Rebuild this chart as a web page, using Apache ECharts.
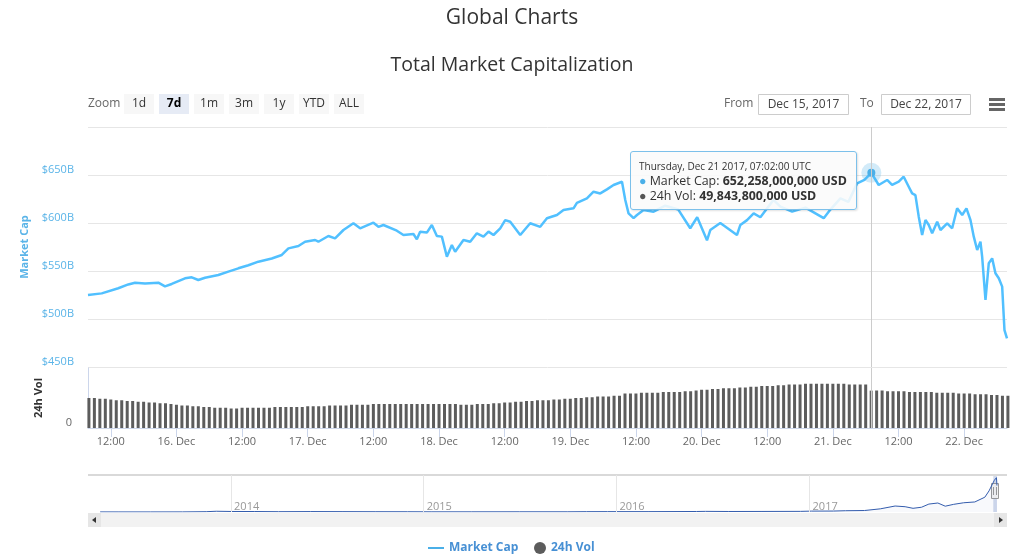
<!DOCTYPE html>
<html><head><meta charset="utf-8">
<script src="https://cdn.jsdelivr.net/npm/echarts@6/dist/echarts.min.js"></script>
<style>html,body{margin:0;padding:0;background:#fff}#c{width:1024px;height:555px}</style>
</head><body><div id="c"></div>
<script>
// ---------- DATA ----------
// Hours since 2017-12-15 00:00 UTC
const capHours = [7.83,10.34,13.37,15.2,16.43,18.26,20.69,21.91,23.14,25.57,26.8,28.0,29.23,31.66,33.49,35.32,37.15,38.98,41.43,43.26,44.47,46.3,47.52,49.35,49.95,51.78,53.0,54.53,56.35,57.58,60.01,60.93,61.84,64.29,65.5,67.33,67.95,68.55,69.78,70.69,71.61,72.52,73.44,74.35,74.95,76.47,77.7,78.92,80.13,81.05,81.96,83.19,84.1,85.02,86.85,88.67,90.5,91.73,93.56,94.76,96.59,97.21,99.04,100.25,101.48,102.7,103.91,105.45,106.05,106.65,107.57,108.19,109.4,111.23,113.36,115.74,117.93,119.2,120.99,121.59,123.42,126.47,127.09,128.31,129.52,130.75,133.13,134.41,136.55,138.98,142.33,143.55,145.38,146.84,148.43,149.77,151.0333,152.38,153.92,154.83,156.04,156.95,157.87,158.49,159.09,159.7,160.32,160.93,161.53,162.15,163.07,163.67,164.9,165.81,166.72,167.64,168.42,169.16,169.76,170.38,170.98,171.29,171.9,172.5,173.12,173.72,174.33,174.95,175.37,175.83];
// Market cap, billions USD
const capValues = [525,526.7,532,536,537.8,537,537.8,534,536.5,542.4,543.4,540.6,543,545.8,549.3,552.8,556,559.7,563,566.7,573.6,576,580.5,582.3,580.5,586.5,584,592.7,599.7,594.5,600.3,596,597.9,592,587.5,588.5,583,591,590,597.9,586.5,585.8,564.9,577,570,582.3,580.5,589.3,585.8,591,587.5,594.5,603,601.3,587.5,599.7,596,604.9,608.3,613.5,615.3,621,625.7,632.6,630.8,635,639.6,643,624,610,605,608.3,613.5,611.8,618,614,594.5,606,582,592.7,600,587.5,598,603,610,606,624,617,611.8,616,605,614,625.7,622,641.3,645,652.258,639.6,644.8,639.6,643,648.2,637.8,630.8,629,606.6,587.5,603.1,597.9,589.3,601.3,592.7,599.7,594.5,615.3,608.3,615.3,603,585.8,571.9,580.5,564.9,519.8,558,563.2,547.6,542.4,533.7,488.5,479.9];
// 24h volume, billions USD, hourly from this hour
const volStartHour = 8;
const volValues = [40,40,39,39,38,
 37,37,36,36,35,35,34,34,
 33,33,32,31,30,30,29,29,28,28,
 27,27,27,26,26,27,27,27,27,27,27,28,28,28,28,28,28,29,29,29,
 29,30,30,30,30,31,31,31,31,32,32,32,32,32,32,32,32,32,32,32,
 32,32,32,32,32,31,31,31,32,32,32,33,33,34,34,35,35,36,36,37,
 37,37,38,38,39,39,40,40,41,41,42,42,42,43,43,
 46,46,46,47,47,47,47,48,48,48,48,49,49,
 50,51,51,52,52,53,53,53,54,54,55,55,56,56,56,57,57,
 58,58,58,59,59,59,59,59,59,59,59,58,58,58,58,
 49.8438,50,50,49,49,49,49,48,48,48,48,48,47,47,47,47,46,46,46,45,45,45,44,44,43,43];
const tipHour = 151.0333;
// Navigator (full history), billions USD
const navDates = ['2013-04-28','2013-06-01','2013-08-01','2013-10-01','2013-11-15','2013-12-04','2014-01-01','2014-02-15','2014-04-01','2014-06-01','2014-08-01','2014-10-01','2014-12-01','2015-01-15','2015-04-01','2015-07-01','2015-10-01','2015-11-05','2015-12-15','2016-03-01','2016-06-01','2016-06-18','2016-08-01','2016-10-01','2016-12-15','2017-01-05','2017-02-15','2017-03-10','2017-04-15','2017-05-15','2017-06-12','2017-07-01','2017-07-16','2017-08-01','2017-08-15','2017-09-01','2017-09-15','2017-10-01','2017-10-20','2017-11-10','2017-11-29','2017-12-07','2017-12-17','2017-12-21','2017-12-22'];
const navValues = [1.5,1.3,1.2,2,6,14,10,9,6,8,7,5.5,5,3.5,3.5,4,4,6.5,6.8,7,9.5,12,9.5,10.5,12,17,18,24,28,60,113,100,70,90,150,170,110,145,175,190,280,400,600,650,500];
const xTickHours = [12,24,36,48,60,72,84,96,108,120,132,144,156,168];
const yearTicks = ['2014-01-01','2015-01-01','2016-01-01','2017-01-01'];
const rangeButtons = ['1d','7d','1m','3m','1y','YTD','ALL'];
const selectedButton = '7d';
const fromDate = 'Dec 15, 2017', toDate = 'Dec 22, 2017';

// ---------- CHART ----------
const FONT = 'Open Sans';
const BLUE = '#4aafe8';
const LBLUE = '#5ab4e8';
const chart = echarts.init(document.getElementById('c'));
const capData = capHours.map((h, i) => [h, capValues[i]]);
const volData = volValues.map((v, i) => [volStartHour + i, v]);
const toMs = d => Date.parse(d + 'T00:00:00Z');
const navData = navDates.map((d, i) => [toMs(d), navValues[i]]);
const tipIdx = capHours.indexOf(tipHour);
const DAYS = ['Sunday','Monday','Tuesday','Wednesday','Thursday','Friday','Saturday'];
const MONS = ['Jan','Feb','Mar','Apr','May','Jun','Jul','Aug','Sep','Oct','Nov','Dec'];
const pad = n => (n < 10 ? '0' : '') + n;
const base = Date.UTC(2017, 11, 15);
function tipDate(h) {
  const d = new Date(base + Math.round(h * 60) * 60000);
  return DAYS[d.getUTCDay()] + ', ' + MONS[d.getUTCMonth()] + ' ' + d.getUTCDate() + ' ' + d.getUTCFullYear() + ', ' + pad(d.getUTCHours()) + ':' + pad(d.getUTCMinutes()) + ':00 UTC';
}
const big = v => Math.round(v * 1e9).toLocaleString('en-US');
const xMin = 7.8333, xMax = 175.8333;

chart.setOption({
  animation: false,
  textStyle: { fontFamily: FONT },
  title: [
    { text: 'Global Charts', left: 'center', top: 3, textStyle: { fontFamily: FONT, fontSize: 21, fontWeight: 'normal', color: '#333' } },
    { text: 'Total Market Capitalization', left: 'center', top: 50, textStyle: { fontFamily: FONT, fontSize: 19.5, fontWeight: 'normal', color: '#333' } }
  ],
  legend: [
    { data: [{ name: 'Market Cap', icon: 'rect' }], left: 428, top: 542, padding: 0, itemWidth: 16, itemHeight: 2, itemGap: 4, selectedMode: false,
      textStyle: { color: '#4790d4', fontWeight: 'bold', fontSize: 12, fontFamily: FONT } },
    { data: [{ name: '24h Vol', icon: 'circle' }], left: 534, top: 542, padding: 0, itemWidth: 12, itemHeight: 12, selectedMode: false,
      textStyle: { color: '#4790d4', fontWeight: 'bold', fontSize: 12, fontFamily: FONT } }
  ],
  axisPointer: { link: [{ xAxisIndex: [0, 1] }] },
  tooltip: {
    trigger: 'axis',
    axisPointer: { type: 'line', lineStyle: { color: '#cccccc', width: 1, type: 'solid' } },
    alwaysShowContent: true,
    transitionDuration: 0,
    position: [630, 151],
    backgroundColor: 'rgba(250,250,250,0.88)',
    borderColor: '#7cc0ea', borderWidth: 1, borderRadius: 3,
    padding: [7, 8, 6, 8],
    extraCssText: 'box-shadow:1px 1px 2px rgba(0,0,0,0.12);min-width:209px;',
    textStyle: { fontFamily: FONT, fontSize: 12, color: '#333' },
    formatter: function (params) {
      const p = params.find(q => q.seriesIndex === 0) || params[0];
      const h = p.value[0];
      const vol = volValues[Math.round(h) - volStartHour];
      return '<div style="font-size:10px;line-height:14px;color:#333">' + tipDate(h) + '</div>' +
        '<div style="line-height:15px;font-size:12.4px"><span style="color:' + BLUE + '">\u25CF</span> Market Cap: <b>' + big(p.value[1]) + ' USD</b></div>' +
        '<div style="line-height:15px;font-size:12.4px"><span style="color:#555">\u25CF</span> 24h Vol: <b>' + big(vol) + ' USD</b></div>';
    }
  },
  grid: [
    { left: 88, right: 17, top: 127, height: 240 },
    { left: 88, right: 17, top: 368, height: 60 },
    { left: 88, right: 17, top: 475, height: 37 }
  ],
  xAxis: [
    { gridIndex: 0, type: 'value', min: xMin, max: xMax,
      axisLine: { show: false }, axisTick: { show: false }, axisLabel: { show: false }, splitLine: { show: false } },
    { gridIndex: 1, type: 'value', min: xMin, max: xMax,
      axisLine: { show: true, lineStyle: { color: '#ccd6eb' } },
      axisTick: { show: true, customValues: xTickHours, length: 9, lineStyle: { color: '#ccd6eb' } },
      axisLabel: { customValues: xTickHours, margin: 8, color: '#666', fontSize: 11, fontFamily: FONT,
        formatter: h => (h % 24 === 0 ? (15 + h / 24) + '. Dec' : '12:00') },
      splitLine: { show: false } },
    { gridIndex: 2, type: 'value', min: Date.UTC(2013, 3, 5), max: Date.UTC(2018, 0, 10),
      axisLine: { show: false }, axisTick: { show: false }, splitLine: { show: false },
      axisLabel: { customValues: yearTicks.map(toMs), inside: true, margin: 0,
        align: 'left', verticalAlign: 'bottom', padding: [0, 0, 0, 3], color: '#999', fontSize: 11, fontFamily: FONT,
        formatter: v => String(new Date(v).getUTCFullYear()) } }
  ],
  yAxis: [
    { gridIndex: 0, type: 'value', min: 450, max: 700, interval: 50,
      name: 'Market Cap', nameLocation: 'middle', nameGap: 57,
      nameTextStyle: { color: LBLUE, fontWeight: 'bold', fontSize: 11, fontFamily: FONT },
      axisLine: { show: false }, axisTick: { show: false },
      axisLabel: { color: LBLUE, fontSize: 11, margin: 14, verticalAlign: 'bottom', fontFamily: FONT,
        formatter: v => (v >= 700 ? '' : '$' + v + 'B') },
      splitLine: { lineStyle: { color: '#e6e6e6' } } },
    { gridIndex: 1, type: 'value', min: 0, max: 80, interval: 80,
      name: '24h Vol', nameLocation: 'middle', nameGap: 44,
      nameTextStyle: { color: '#333', fontWeight: 'bold', fontSize: 11, fontFamily: FONT },
      axisLine: { show: true, lineStyle: { color: '#ccd6eb' } }, axisTick: { show: false },
      axisLabel: { color: '#666', fontSize: 11, margin: 16, verticalAlign: 'bottom', fontFamily: FONT,
        formatter: v => (v === 0 ? '0' : '') },
      splitLine: { show: false } },
    { gridIndex: 2, type: 'value', min: 0, max: 700, show: false }
  ],
  series: [
    { name: 'Market Cap', type: 'line', xAxisIndex: 0, yAxisIndex: 0, data: capData,
      symbol: 'none', color: BLUE, lineStyle: { width: 2.5, color: BLUE },
      markPoint: { silent: true, animation: false, label: { show: false },
        data: [
          { coord: [tipHour, capValues[tipIdx]], symbol: 'circle', symbolSize: 20, itemStyle: { color: 'rgba(74,175,232,0.25)' } },
          { coord: [tipHour, capValues[tipIdx]], symbol: 'circle', symbolSize: 8, itemStyle: { color: BLUE } }
        ] } },
    { name: '24h Vol', type: 'bar', xAxisIndex: 1, yAxisIndex: 1, data: volData,
      barWidth: 3, color: '#5c5c5c', itemStyle: { color: '#5c5c5c' } },
    { name: 'nav', type: 'line', xAxisIndex: 2, yAxisIndex: 2, data: navData, symbol: 'none',
      lineStyle: { width: 1, color: '#335cad' }, color: '#335cad', areaStyle: { color: 'rgba(51,92,173,0.05)' },
      silent: true,
      markLine: { silent: true, symbol: ['none', 'none'], label: { show: false }, animation: false,
        lineStyle: { color: '#e6e6e6', width: 1, type: 'solid' },
        data: yearTicks.map(t => ({ xAxis: toMs(t) })) } }
  ]
});

// ---------- DECORATIONS (toolbar, navigator, scrollbar) ----------
const g = [];
const txt = (x, y, s, opt) => ({ type: 'text', x: x, y: y, style: Object.assign({ text: s, fill: '#666', font: '12px "Open Sans"', verticalAlign: 'middle' }, opt || {}) });
g.push(txt(88, 104, 'Zoom'));
rangeButtons.forEach((b, i) => {
  const x = 124 + 35 * i, sel = b === selectedButton;
  g.push({ type: 'rect', shape: { x: x, y: 94, width: 30, height: 20 }, style: { fill: sel ? '#e6ebf5' : '#f7f7f7' } });
  g.push(txt(x + 15, 104, b, { fill: sel ? '#000' : '#333', align: 'center', font: (sel ? 'bold ' : '') + '12px "Open Sans"' }));
});
g.push(txt(724, 104, 'From'));
g.push({ type: 'rect', shape: { x: 758.5, y: 94.5, width: 90, height: 20 }, style: { fill: '#fff', stroke: '#cccccc', lineWidth: 1 } });
g.push(txt(803.5, 104.5, fromDate, { fill: '#444', align: 'center' }));
g.push(txt(860, 104, 'To'));
g.push({ type: 'rect', shape: { x: 881.5, y: 94.5, width: 89, height: 20 }, style: { fill: '#fff', stroke: '#cccccc', lineWidth: 1 } });
g.push(txt(926, 104.5, toDate, { fill: '#444', align: 'center' }));
[98, 103, 108].forEach(y => g.push({ type: 'rect', shape: { x: 989, y: y, width: 16, height: 3 }, style: { fill: '#666' } }));
g.push({ type: 'rect', shape: { x: 88, y: 474, width: 919, height: 2 }, style: { fill: '#d9d9d9' } });
g.push({ type: 'rect', shape: { x: 88, y: 513, width: 919, height: 14 }, style: { fill: '#f2f2f2' } });
g.push({ type: 'rect', shape: { x: 88, y: 513, width: 13, height: 14 }, style: { fill: '#e6e6e6' } });
g.push({ type: 'polygon', shape: { points: [[96, 517], [96, 523], [92, 520]] }, style: { fill: '#333' } });
g.push({ type: 'rect', shape: { x: 994, y: 513, width: 13, height: 14 }, style: { fill: '#e6e6e6' } });
g.push({ type: 'polygon', shape: { points: [[999, 517], [999, 523], [1003, 520]] }, style: { fill: '#333' } });
const hx0 = chart.convertToPixel({ xAxisIndex: 2 }, Date.UTC(2017, 11, 15));
const hx1 = chart.convertToPixel({ xAxisIndex: 2 }, Date.UTC(2017, 11, 22));
g.push({ type: 'rect', shape: { x: hx0, y: 476, width: Math.max(1, hx1 - hx0), height: 36 }, style: { fill: 'rgba(102,133,194,0.3)' } });
const hc = Math.round(hx1) - 2;
g.push({ type: 'rect', shape: { x: hc - 3.5, y: 483.5, width: 7, height: 15 }, style: { fill: '#f2f2f2', stroke: '#999', lineWidth: 1 } });
g.push({ type: 'line', shape: { x1: hc - 1.5, y1: 487, x2: hc - 1.5, y2: 495 }, style: { stroke: '#999', lineWidth: 1 } });
g.push({ type: 'line', shape: { x1: hc + 1.5, y1: 487, x2: hc + 1.5, y2: 495 }, style: { stroke: '#999', lineWidth: 1 } });
chart.setOption({ graphic: g });

chart.dispatchAction({ type: 'showTip', seriesIndex: 0, dataIndex: tipIdx });
</script></body></html>
